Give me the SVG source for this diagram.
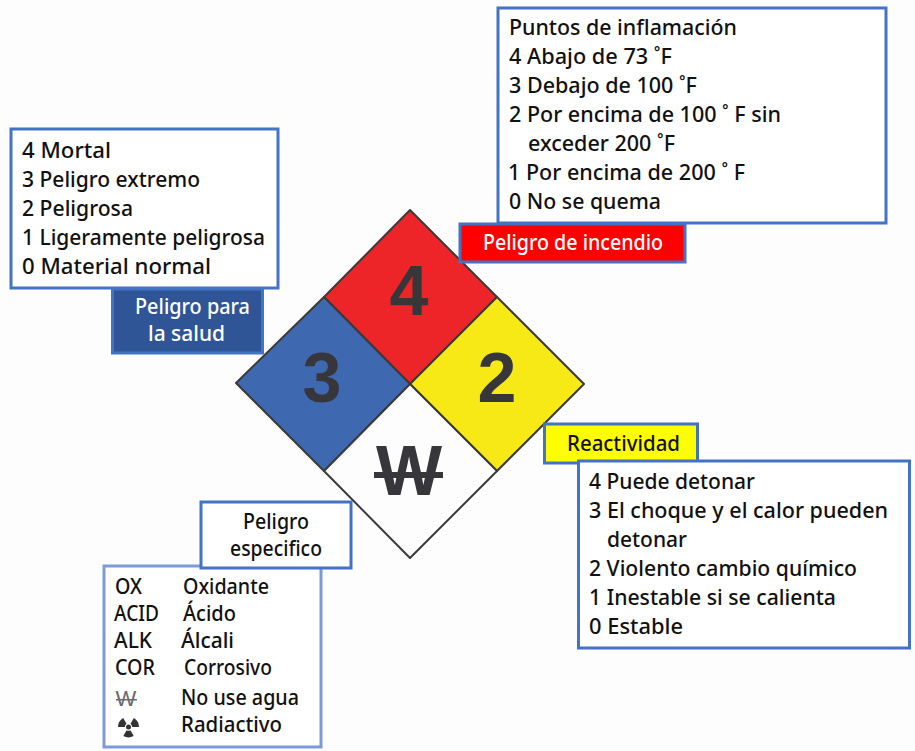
<svg xmlns="http://www.w3.org/2000/svg" width="915" height="751" viewBox="0 0 915 751">
<style>
.box{fill:#fff;stroke:#4472c4;stroke-width:3}
.t{font-family:"Noto Sans","Open Sans",sans-serif;font-size:21px;font-weight:500;fill:#111}
.c{text-anchor:middle}
.w{fill:#fff}
.d{font-family:"Liberation Sans",Arial,sans-serif;font-weight:700;font-size:70px;fill:#36363b;text-anchor:middle}
.q{stroke:#3a3a3a;stroke-width:2;stroke-linejoin:round}
</style>
<rect width="915" height="751" fill="#fdfdfe"/>
<g id="diamond">
<polygon class="q" points="410,210 497,297 410,384 324,297" fill="#ed2528"/>
<polygon class="q" points="324,297 410,384 324,471 236,383" fill="#3e69b0"/>
<polygon class="q" points="497,297 584,384 497,471 410,384" fill="#f6e916"/>
<polygon class="q" points="410,384 497,471 410,558 324,471" fill="#fdfdfe"/>
<text class="d" x="409" y="315">4</text>
<text class="d" x="322" y="402">3</text>
<text class="d" x="497" y="402">2</text>
<text class="d" x="409" y="495">W</text>
<rect x="374" y="472" width="69" height="6" fill="#36363b"/>
</g>
<g id="salud-list">
<rect class="box" x="11" y="129" width="267" height="159"/>
<text class="t" lengthAdjust="spacingAndGlyphs" x="22" y="158" textLength="89">4 Mortal</text>
<text class="t" lengthAdjust="spacingAndGlyphs" x="22" y="187" textLength="178">3 Peligro extremo</text>
<text class="t" lengthAdjust="spacingAndGlyphs" x="22" y="216" textLength="111">2 Peligrosa</text>
<text class="t" lengthAdjust="spacingAndGlyphs" x="22" y="245" textLength="243">1 Ligeramente peligrosa</text>
<text class="t" lengthAdjust="spacingAndGlyphs" x="22" y="274" textLength="189">0 Material normal</text>
</g>
<g id="salud-label">
<rect x="112.500" y="289" width="150" height="64" fill="#2f5597" stroke="#4472c4" stroke-width="3"/>
<text class="t c w" lengthAdjust="spacingAndGlyphs" x="192.500" y="314" textLength="115">Peligro para</text>
<text class="t c w" lengthAdjust="spacingAndGlyphs" x="186.500" y="341" textLength="77">la salud</text>
</g>
<g id="incendio-list">
<rect class="box" x="498" y="8" width="388" height="215"/>
<text class="t" lengthAdjust="spacingAndGlyphs" x="509" y="35" textLength="228">Puntos de inflamación</text>
<text class="t" lengthAdjust="spacingAndGlyphs" x="509" y="64" textLength="163">4 Abajo de 73 ˚F</text>
<text class="t" lengthAdjust="spacingAndGlyphs" x="509" y="93" textLength="188">3 Debajo de 100 ˚F</text>
<text class="t" lengthAdjust="spacingAndGlyphs" x="509" y="122" textLength="272">2 Por encima de 100 ˚ F sin</text>
<text class="t" lengthAdjust="spacingAndGlyphs" x="528" y="151" textLength="147">exceder 200 ˚F</text>
<text class="t" lengthAdjust="spacingAndGlyphs" x="508" y="180" textLength="237">1 Por encima de 200 ˚ F</text>
<text class="t" lengthAdjust="spacingAndGlyphs" x="509" y="209" textLength="152">0 No se quema</text>
</g>
<g id="incendio-label">
<rect x="460" y="224" width="225" height="38" fill="#ff0000" stroke="#4472c4" stroke-width="3"/>
<text class="t c w" lengthAdjust="spacingAndGlyphs" x="573" y="250" textLength="180">Peligro de incendio</text>
</g>
<g id="reactividad-label">
<rect x="544.500" y="424" width="153" height="39" fill="#ffff00" stroke="#4472c4" stroke-width="3"/>
<text class="t c" lengthAdjust="spacingAndGlyphs" x="623.500" y="451" textLength="113">Reactividad</text>
</g>
<g id="reactividad-list">
<rect class="box" x="578.500" y="461" width="331" height="187"/>
<text class="t" lengthAdjust="spacingAndGlyphs" x="589" y="489" textLength="166">4 Puede detonar</text>
<text class="t" lengthAdjust="spacingAndGlyphs" x="589" y="518" textLength="299">3 El choque y el calor pueden</text>
<text class="t" lengthAdjust="spacingAndGlyphs" x="607" y="547" textLength="80">detonar</text>
<text class="t" lengthAdjust="spacingAndGlyphs" x="589" y="576" textLength="268">2 Violento cambio químico</text>
<text class="t" lengthAdjust="spacingAndGlyphs" x="589" y="605" textLength="247">1 Inestable si se calienta</text>
<text class="t" lengthAdjust="spacingAndGlyphs" x="589" y="634" textLength="94">0 Estable</text>
</g>
<g id="especifico-list">
<rect x="104" y="566" width="217" height="181" fill="#fff" stroke="#7c9bd6" stroke-width="3"/>
<text class="t" lengthAdjust="spacingAndGlyphs" x="115" y="594" textLength="27">OX</text><text class="t" lengthAdjust="spacingAndGlyphs" x="183" y="594" textLength="86">Oxidante</text>
<text class="t" lengthAdjust="spacingAndGlyphs" x="114" y="621" textLength="45">ACID</text><text class="t" lengthAdjust="spacingAndGlyphs" x="183" y="621" textLength="53">Ácido</text>
<text class="t" lengthAdjust="spacingAndGlyphs" x="114" y="648" textLength="38">ALK</text><text class="t" lengthAdjust="spacingAndGlyphs" x="181" y="648" textLength="53">Álcali</text>
<text class="t" lengthAdjust="spacingAndGlyphs" x="115" y="675" textLength="40">COR</text><text class="t" lengthAdjust="spacingAndGlyphs" x="184" y="675" textLength="88">Corrosivo</text>
<text x="126" y="706" font-family="Liberation Sans,sans-serif" font-size="22" fill="#6a6a6e" text-anchor="middle">W</text>
<rect x="116" y="699" width="21" height="1.500" fill="#6a6a6e"/>
<text class="t" lengthAdjust="spacingAndGlyphs" x="181" y="705" textLength="118">No use agua</text>
<g id="radiation" fill="#333">
<circle cx="128.500" cy="727" r="2.500"/>
<path d="M118 727a10.500 10.500 0 0 1 5.200-9l3.300 5.700a4 4 0 0 0-1.700 3.300zM139 727a10.500 10.500 0 0 0-5.200-9l-3.300 5.700a4 4 0 0 1 1.700 3.300zM123.300 736a10.500 10.500 0 0 0 10.400 0l-3.300-5.700a4 4 0 0 1-3.800 0z"/>
</g>
<text class="t" lengthAdjust="spacingAndGlyphs" x="181" y="732" textLength="101">Radiactivo</text>
</g>
<g id="especifico-label">
<rect class="box" x="201" y="502" width="150" height="66"/>
<text class="t c" lengthAdjust="spacingAndGlyphs" x="276" y="529" textLength="66">Peligro</text>
<text class="t c" lengthAdjust="spacingAndGlyphs" x="276" y="556" textLength="92">especifico</text>
</g>
<g id="connectors"></g>
</svg>
